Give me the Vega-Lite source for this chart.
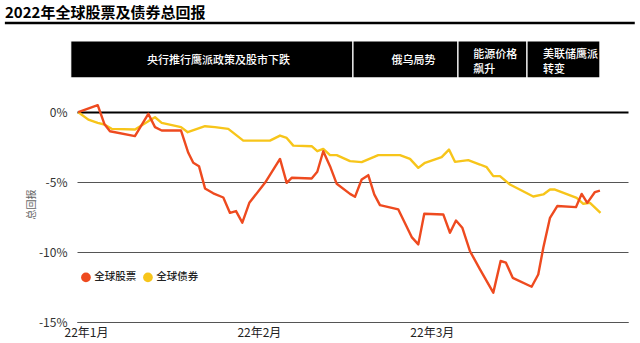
{
  "$schema": "https://vega.github.io/schema/vega-lite/v6.json",
  "width": 551,
  "height": 281,
  "autosize": {"type": "none"},
  "padding": {"left": 77, "top": 41, "right": 12, "bottom": 21},
  "background": "#ffffff",
  "config": {
    "font": "Noto Sans CJK SC",
    "view": {"stroke": null}
  },
  "title": {
    "text": "2022年全球股票及债券总回报",
    "anchor": "start",
    "frame": "group",
    "fontSize": 15,
    "fontWeight": "bold",
    "color": "#000000",
    "dx": -72,
    "offset": 1
  },
  "datasets": {
    "titleRule": [{"from": -9, "to": 68.2, "level": 6.38}],
    "events": [
      {"event": "央行推行鹰派政策及股市下跌", "start": -0.93, "end": 33.66, "textAt": 8.43},
      {"event": "俄乌局势", "start": 33.66, "end": 46.53, "textAt": 38.4},
      {"event": "能源价格\n飙升", "start": 46.53, "end": 54.99, "textAt": 48.4},
      {"event": "美联储鹰派\n转变", "start": 54.99, "end": 63.93, "textAt": 56.96}
    ],
    "returns": [
      {"series": "全球债券", "t": 0, "value": 0},
      {"series": "全球债券", "t": 1.23, "value": -0.53},
      {"series": "全球债券", "t": 2.38, "value": -0.76},
      {"series": "全球债券", "t": 3.19, "value": -0.88},
      {"series": "全球债券", "t": 4.09, "value": -1.19},
      {"series": "全球债券", "t": 6.95, "value": -1.24},
      {"series": "全球债券", "t": 8.58, "value": -0.64},
      {"series": "全球债券", "t": 9.4, "value": -0.36},
      {"series": "全球债券", "t": 10.22, "value": -0.76},
      {"series": "全球债券", "t": 12.59, "value": -1.07},
      {"series": "全球债券", "t": 13.41, "value": -1.43},
      {"series": "全球债券", "t": 15.53, "value": -1.0},
      {"series": "全球债券", "t": 16.75, "value": -1.07},
      {"series": "全球债券", "t": 18.38, "value": -1.19},
      {"series": "全球债券", "t": 20.22, "value": -2.03},
      {"series": "全球债券", "t": 23.49, "value": -2.03},
      {"series": "全球债券", "t": 24.72, "value": -1.67},
      {"series": "全球债券", "t": 25.54, "value": -1.84},
      {"series": "全球债券", "t": 26.35, "value": -2.39},
      {"series": "全球债券", "t": 28.6, "value": -2.43},
      {"series": "全球债券", "t": 29.29, "value": -2.79},
      {"series": "全球债券", "t": 30.02, "value": -2.62},
      {"series": "全球债券", "t": 30.85, "value": -3.07},
      {"series": "全球债券", "t": 31.67, "value": -3.07},
      {"series": "全球债券", "t": 33.3, "value": -3.5},
      {"series": "全球债券", "t": 34.73, "value": -3.57},
      {"series": "全球债券", "t": 36.76, "value": -3.07},
      {"series": "全球债券", "t": 39.42, "value": -3.07},
      {"series": "全球债券", "t": 40.65, "value": -3.34},
      {"series": "全球债券", "t": 41.67, "value": -3.98},
      {"series": "全球债券", "t": 42.49, "value": -3.62},
      {"series": "全球债券", "t": 44.53, "value": -3.21},
      {"series": "全球债券", "t": 45.43, "value": -2.67},
      {"series": "全球债券", "t": 46.16, "value": -3.55},
      {"series": "全球债券", "t": 47.79, "value": -3.43},
      {"series": "全球债券", "t": 49.23, "value": -3.74},
      {"series": "全球债券", "t": 50.05, "value": -3.93},
      {"series": "全球债券", "t": 50.86, "value": -4.57},
      {"series": "全球债券", "t": 51.68, "value": -4.57},
      {"series": "全球债券", "t": 52.9, "value": -5.17},
      {"series": "全球债券", "t": 55.76, "value": -6.03},
      {"series": "全球债券", "t": 56.99, "value": -5.88},
      {"series": "全球债券", "t": 57.81, "value": -5.53},
      {"series": "全球债券", "t": 58.42, "value": -5.53},
      {"series": "全球债券", "t": 61.08, "value": -6.12},
      {"series": "全球债券", "t": 61.89, "value": -6.55},
      {"series": "全球债券", "t": 62.71, "value": -6.48},
      {"series": "全球债券", "t": 64.0, "value": -7.19},
      {"series": "全球股票", "t": 0, "value": 0},
      {"series": "全球股票", "t": 2.38, "value": 0.5},
      {"series": "全球股票", "t": 3.19, "value": -0.84},
      {"series": "全球股票", "t": 3.88, "value": -1.36},
      {"series": "全球股票", "t": 6.94, "value": -1.71},
      {"series": "全球股票", "t": 8.58, "value": -0.12},
      {"series": "全球股票", "t": 9.4, "value": -1.07},
      {"series": "全球股票", "t": 10.22, "value": -1.31},
      {"series": "全球股票", "t": 12.59, "value": -1.31},
      {"series": "全球股票", "t": 13.48, "value": -2.9},
      {"series": "全球股票", "t": 14.09, "value": -3.62},
      {"series": "全球股票", "t": 14.79, "value": -3.86},
      {"series": "全球股票", "t": 15.53, "value": -5.45},
      {"series": "全球股票", "t": 16.54, "value": -5.8},
      {"series": "全球股票", "t": 17.77, "value": -6.1},
      {"series": "全球股票", "t": 18.59, "value": -7.2},
      {"series": "全球股票", "t": 19.33, "value": -7.07},
      {"series": "全球股票", "t": 20.1, "value": -7.9},
      {"series": "全球股票", "t": 20.96, "value": -6.48},
      {"series": "全球股票", "t": 22.88, "value": -5.05},
      {"series": "全球股票", "t": 24.72, "value": -3.34},
      {"series": "全球股票", "t": 25.54, "value": -5.05},
      {"series": "全球股票", "t": 26.15, "value": -4.69},
      {"series": "全球股票", "t": 28.6, "value": -4.74},
      {"series": "全球股票", "t": 29.29, "value": -4.26},
      {"series": "全球股票", "t": 30.02, "value": -2.79},
      {"series": "全球股票", "t": 30.85, "value": -3.86},
      {"series": "全球股票", "t": 31.67, "value": -5.12},
      {"series": "全球股票", "t": 33.3, "value": -5.84},
      {"series": "全球股票", "t": 33.91, "value": -6.05},
      {"series": "全球股票", "t": 34.73, "value": -4.81},
      {"series": "全球股票", "t": 35.54, "value": -4.5},
      {"series": "全球股票", "t": 36.27, "value": -5.88},
      {"series": "全球股票", "t": 36.97, "value": -6.64},
      {"series": "全球股票", "t": 39.22, "value": -6.95},
      {"series": "全球股票", "t": 40.86, "value": -8.93},
      {"series": "全球股票", "t": 41.67, "value": -9.45},
      {"series": "全球股票", "t": 42.4, "value": -7.26},
      {"series": "全球股票", "t": 44.73, "value": -7.31},
      {"series": "全球股票", "t": 45.55, "value": -8.62},
      {"series": "全球股票", "t": 46.29, "value": -7.74},
      {"series": "全球股票", "t": 47.06, "value": -8.26},
      {"series": "全球股票", "t": 48.0, "value": -9.93},
      {"series": "全球股票", "t": 49.23, "value": -11.24},
      {"series": "全球股票", "t": 50.86, "value": -12.9},
      {"series": "全球股票", "t": 51.76, "value": -10.64},
      {"series": "全球股票", "t": 52.41, "value": -10.76},
      {"series": "全球股票", "t": 53.24, "value": -11.84},
      {"series": "全球股票", "t": 55.56, "value": -12.48},
      {"series": "全球股票", "t": 56.37, "value": -11.6},
      {"series": "全球股票", "t": 56.99, "value": -9.69},
      {"series": "全球股票", "t": 57.81, "value": -7.55},
      {"series": "全球股票", "t": 58.7, "value": -6.71},
      {"series": "全球股票", "t": 60.99, "value": -6.79},
      {"series": "全球股票", "t": 61.69, "value": -5.84},
      {"series": "全球股票", "t": 62.38, "value": -6.48},
      {"series": "全球股票", "t": 63.32, "value": -5.71},
      {"series": "全球股票", "t": 63.93, "value": -5.6}
    ]
  },
  "layer": [
    {
      "data": {"name": "titleRule"},
      "mark": {"type": "rule", "color": "#000000", "strokeWidth": 2.5, "clip": false},
      "encoding": {
        "x": {"field": "from", "type": "quantitative", "scale": {"domain": [-0.16, 67.37], "nice": false, "zero": false}},
        "x2": {"field": "to"},
        "y": {"field": "level", "type": "quantitative", "scale": {"domain": [-15, 5.09], "nice": false, "zero": false}}
      }
    },
    {
      "data": {"name": "events"},
      "mark": {"type": "rect", "fill": "#000000", "stroke": "#ffffff", "strokeWidth": 1.2},
      "encoding": {
        "x": {"field": "start", "type": "quantitative"},
        "x2": {"field": "end"},
        "y": {"datum": 2.45, "type": "quantitative"},
        "y2": {"datum": 5.09}
      }
    },
    {
      "data": {"name": "events"},
      "transform": [{"filter": "datum.start < 40"}],
      "mark": {"type": "text", "color": "#ffffff", "fontSize": 11, "fontWeight": 500, "align": "left", "baseline": "middle", "dy": 2},
      "encoding": {
        "x": {"field": "textAt", "type": "quantitative"},
        "y": {"datum": 3.77, "type": "quantitative"},
        "text": {"field": "event"}
      }
    },
    {
      "data": {"name": "events"},
      "transform": [{"filter": "datum.start >= 40"}],
      "mark": {"type": "text", "color": "#ffffff", "fontSize": 11, "fontWeight": 500, "align": "left", "baseline": "middle", "lineBreak": "\n", "lineHeight": 15, "dy": -4},
      "encoding": {
        "x": {"field": "textAt", "type": "quantitative"},
        "y": {"datum": 3.77, "type": "quantitative"},
        "text": {"field": "event"}
      }
    },
    {
      "data": {"name": "returns"},
      "mark": {"type": "line", "strokeWidth": 2.4, "strokeJoin": "round"},
      "encoding": {
        "x": {
          "field": "t",
          "type": "quantitative",
          "axis": {
            "values": [0.94, 22.13, 43.33],
            "labelExpr": "datum.value < 10 ? '22年1月' : (datum.value < 30 ? '22年2月' : '22年3月')",
            "title": null,
            "grid": false,
            "ticks": false,
            "domain": true,
            "domainColor": "#555555",
            "domainWidth": 1.2,
            "labelFontSize": 12,
            "labelColor": "#222222",
            "labelPadding": 5,
            "labelFlush": false
          }
        },
        "y": {
          "field": "value",
          "type": "quantitative",
          "axis": {
            "values": [0, -5, -10, -15],
            "labelExpr": "datum.value + '%'",
            "title": "总回报",
            "titleFontSize": 10,
            "titleFontWeight": "normal",
            "titleColor": "#666666",
            "titleX": -46,
            "titleY": 163,
            "titleBaseline": "middle",
            "titleAlign": "center",
            "domain": false,
            "ticks": false,
            "grid": true,
            "gridColor": {"expr": "datum.value == 0 ? '#000000' : '#555555'"},
            "gridWidth": {"expr": "datum.value == 0 ? 2 : 1"},
            "labelFontSize": 12,
            "labelColor": "#333333",
            "labelPadding": 10
          }
        },
        "color": {
          "field": "series",
          "type": "nominal",
          "scale": {"domain": ["全球股票", "全球债券"], "range": ["#EE4A1F", "#F7C51A"]},
          "legend": {
            "title": null,
            "orient": "none",
            "legendX": 3.7,
            "legendY": 231,
            "direction": "horizontal",
            "symbolType": "circle",
            "symbolSize": 95,
            "symbolStrokeWidth": 0,
            "labelFontSize": 10.5,
            "labelColor": "#222222",
            "labelFontWeight": 500,
            "labelOffset": 3,
            "columnPadding": 6,
            "encode": {"symbols": {"update": {"fill": {"scale": "color", "field": "value"}, "fillOpacity": {"value": 1}}}}
          }
        }
      }
    }
  ]
}
